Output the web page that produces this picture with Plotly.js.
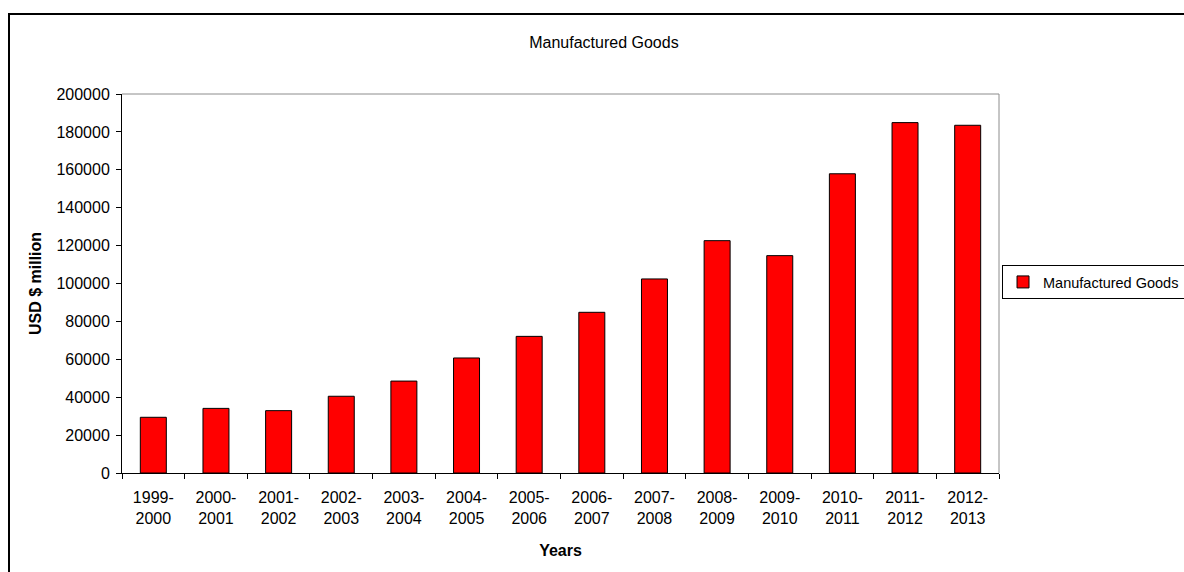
<!DOCTYPE html>
<html>
<head>
<meta charset="utf-8">
<script src="https://cdn.plot.ly/plotly-3.0.1.min.js"></script>
<style>
  html, body { margin: 0; padding: 0; background: #fff; overflow: hidden; }
  #wrap { position: relative; width: 1184px; height: 572px; }
  #chart { position: absolute; left: 0; top: 0; width: 1184px; height: 572px; }
  #frame { position: absolute; left: 8px; top: 13px; width: 1400px; height: 800px;
           border: 2px solid #000; pointer-events: none; box-sizing: border-box; }
</style>
</head>
<body>
<div id="wrap">
  <div id="chart"></div>
  <div id="frame"></div>
</div>
<script>
const categories = ["1999-2000", "2000-2001", "2001-2002", "2002-2003", "2003-2004",
  "2004-2005", "2005-2006", "2006-2007", "2007-2008", "2008-2009",
  "2009-2010", "2010-2011", "2011-2012", "2012-2013"];
const manufacturedGoods = [29400, 34100, 32900, 40500, 48500, 60700, 72100,
  84800, 102400, 122600, 114700, 157900, 184900, 183500];
const seriesName = "Manufactured Goods";
const chartTitle = "Manufactured Goods";
const xTitle = "Years";
const yTitle = "USD $ million";

const tickText = categories.map(c => c.replace("-", "-<br>"));
const FONT = '"Liberation Sans", Arial, sans-serif';

const trace = {
  type: "bar",
  x: categories,
  y: manufacturedGoods,
  name: seriesName,
  marker: { color: "#FF0000", line: { color: "#000000", width: 1 } },
  showlegend: true,
  hoverinfo: "x+y"
};

const layout = {
  width: 1184,
  height: 572,
  margin: { l: 122, r: 185, t: 94, b: 99, pad: 0, autoexpand: false },
  paper_bgcolor: "rgba(0,0,0,0)",
  plot_bgcolor: "#ffffff",
  font: { family: FONT, size: 16, color: "#000" },
  bargap: 0.585,
  title: {
    text: chartTitle,
    font: { family: FONT, size: 16, color: "#000" },
    x: 0.5101, xref: "container", xanchor: "center",
    y: 0.9266, yref: "container", yanchor: "middle"
  },
  xaxis: {
    type: "category",
    automargin: false,
    tickmode: "array",
    tickvals: categories,
    ticktext: tickText,
    tickson: "boundaries",
    ticks: "outside",
    ticklen: 5,
    tickcolor: "#000",
    tickwidth: 1,
    ticklabelstandoff: 10,
    showline: true,
    linecolor: "#000",
    linewidth: 1,
    showgrid: false,
    zeroline: false,
    tickfont: { family: FONT, size: 16, color: "#000" },
    title: { text: "<b>" + xTitle + "</b>", font: { family: FONT, size: 16, color: "#000" }, standoff: 18 },
    fixedrange: true
  },
  yaxis: {
    range: [0, 200000],
    automargin: false,
    tickmode: "linear",
    tick0: 0,
    dtick: 20000,
    tickformat: "d",
    ticks: "outside",
    ticklen: 5,
    tickcolor: "#000",
    ticklabelstandoff: 3,
    showline: true,
    linecolor: "#000",
    linewidth: 1,
    showgrid: false,
    zeroline: false,
    tickfont: { family: FONT, size: 16, color: "#000" },
    title: { text: "<b>" + yTitle + "</b>", font: { family: FONT, size: 16, color: "#000" }, standoff: 10 },
    fixedrange: true
  },
  legend: {
    xref: "container", yref: "container",
    x: 0.8463, xanchor: "left",
    y: 0.5367, yanchor: "top",
    bordercolor: "#000",
    borderwidth: 1,
    bgcolor: "#fff",
    font: { family: FONT, size: 14.5, color: "#000" }
  },
  shapes: [
    { type: "path", xref: "paper", yref: "paper", path: "M0,1 L1,1 L1,0",
      line: { color: "#8c8c8c", width: 1 }, layer: "above" }
  ]
};

Plotly.newPlot("chart", [trace], layout, { displayModeBar: false, staticPlot: true });
</script>
</body>
</html>
